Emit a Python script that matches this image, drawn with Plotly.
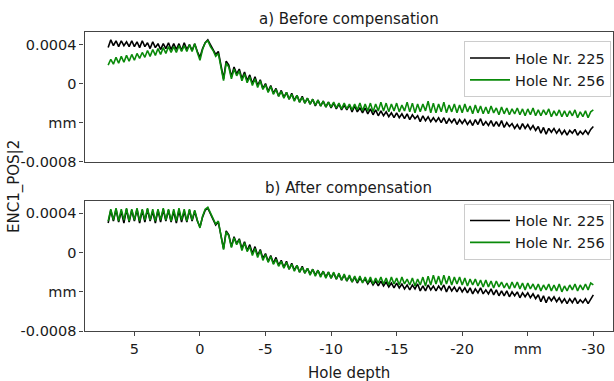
import numpy as np
import plotly.graph_objects as go

# Hole depth sampling grid (mm), 7 down to -30 in 0.2 mm steps
depth = np.round(np.linspace(7.0, -30.0, 186), 2)

# Values in units of 1e-4 mm
before_225 = [
    3.7, 4.5, 3.9, 4.4, 3.8,  4.4, 3.9, 4.3, 3.8, 4.4,  3.8, 4.3, 3.7, 4.4, 3.8,
    4.2, 3.6, 4.3, 3.7, 4.1,  3.5, 4.1, 3.6, 4.2, 3.5,  4.1, 3.5, 4.1, 3.4, 4.2,
    3.5, 4.0, 3.4, 4.1, 3.3,  2.7, 3.6, 4.2, 4.5, 4.0,  3.6, 3.0, 3.3, 1.8, 0.5,
    2.3, 1.9, 0.7, 1.7, 1.0,  1.5, 0.5, 1.2, 0.3, 0.9,  0.0, 0.7, -0.2, 0.4, -0.5,
    0.0, -0.8, -0.2, -1.0, -0.5,  -1.3, -0.7, -1.4, -0.9, -1.6,  -1.0, -1.7, -1.2, -1.9, -1.3,
    -2.0, -1.5, -2.1, -1.6, -2.3,  -1.7, -2.3, -1.8, -2.4, -1.9,  -2.5, -2.0, -2.6, -2.1, -2.7,
    -2.2, -2.7, -2.2, -2.9, -2.3,  -2.9, -2.5, -3.0, -2.5, -3.1,  -2.6, -3.2, -2.7, -3.3, -2.8,
    -3.3, -2.9, -3.4, -3.0, -3.5,  -3.0, -3.5, -3.1, -3.6, -3.1,  -3.7, -3.2, -3.6, -3.3, -3.9,
    -3.3, -3.8, -3.4, -3.9, -3.5,  -3.9, -3.5, -4.0, -3.5, -4.1,  -3.6, -4.0, -3.6, -4.2, -3.7,
    -4.1, -3.7, -4.2, -3.8, -4.3,  -3.7, -4.2, -3.6, -4.3, -3.9,  -4.3, -3.8, -4.4, -3.9, -4.4,
    -3.8, -4.5, -4.0, -4.4, -4.1,  -4.6, -4.2, -4.7, -4.1, -4.6,  -4.2, -4.7, -4.3, -4.8, -4.4,
    -5.1, -4.5, -5.2, -4.6, -5.0,  -4.6, -5.1, -4.7, -5.2, -4.8,  -5.3, -4.8, -5.1, -4.7, -5.3,
    -4.9, -5.2, -4.8, -5.2, -4.7,  -4.4,
]
before_256 = [
    1.9, 2.5, 2.0, 2.7, 2.1,  2.8, 2.2, 2.9, 2.3, 3.0,  2.4, 3.1, 2.6, 3.2, 2.7,
    3.4, 2.8, 3.5, 2.9, 3.6,  3.0, 3.7, 3.1, 3.8, 3.2,  3.8, 3.2, 3.9, 3.3, 3.9,
    3.3, 4.0, 3.3, 4.1, 3.2,  2.4, 3.5, 4.2, 4.4, 3.8,  3.4, 2.8, 3.1, 1.5, 0.3,
    2.1, 1.7, 0.5, 1.5, 0.8,  1.3, 0.3, 1.0, 0.1, 0.7,  -0.2, 0.5, -0.4, 0.3, -0.6,
    -0.1, -0.9, -0.3, -1.1, -0.6,  -1.3, -0.8, -1.5, -0.9, -1.6,  -1.1, -1.8, -1.2, -1.9, -1.4,
    -2.0, -1.5, -2.1, -1.6, -2.2,  -1.7, -2.3, -1.8, -2.4, -1.9,  -2.4, -1.9, -2.5, -2.0, -2.6,
    -2.0, -2.6, -2.1, -2.7, -2.1,  -2.7, -2.0, -2.8, -2.1, -2.8,  -2.0, -2.9, -2.1, -2.8, -1.9,
    -2.8, -2.0, -2.9, -2.1, -2.8,  -2.0, -2.9, -2.2, -2.8, -1.9,  -2.9, -2.0, -3.0, -2.1, -2.9,
    -2.1, -2.8, -1.8, -3.0, -2.0,  -3.0, -2.1, -2.9, -1.9, -3.0,  -2.2, -2.9, -2.1, -3.0, -2.2,
    -3.0, -2.1, -2.9, -2.3, -3.1,  -2.2, -3.0, -2.3, -3.1, -2.4,  -3.1, -2.3, -3.0, -2.5, -3.2,
    -2.4, -3.1, -2.5, -3.2, -2.6,  -3.1, -2.5, -3.2, -2.6, -3.3,  -2.6, -3.2, -2.5, -3.3, -2.7,
    -3.3, -2.7, -3.2, -2.6, -3.4,  -2.8, -3.3, -2.7, -3.4, -2.8,  -3.4, -2.8, -3.3, -2.7, -3.5,
    -2.9, -3.4, -2.8, -3.5, -2.9,  -2.7,
]
after_225 = [
    3.0, 4.3, 3.2, 4.4, 3.1,  4.2, 3.0, 4.4, 3.1, 4.3,  3.2, 4.4, 3.0, 4.3, 3.1,
    4.4, 3.2, 4.2, 3.0, 4.3,  3.1, 4.4, 3.2, 4.3, 3.1,  4.2, 3.0, 4.3, 3.1, 4.2,
    3.1, 4.3, 3.2, 4.2, 3.2,  2.6, 3.6, 4.3, 4.5, 3.9,  3.4, 2.8, 3.1, 1.6, 0.4,
    2.2, 1.8, 0.6, 1.6, 0.9,  1.4, 0.4, 1.1, 0.2, 0.8,  -0.1, 0.6, -0.3, 0.3, -0.6,
    -0.1, -0.9, -0.3, -1.1, -0.5,  -1.3, -0.8, -1.5, -0.9, -1.7,  -1.1, -1.8, -1.3, -2.0, -1.4,
    -2.1, -1.6, -2.2, -1.7, -2.3,  -1.8, -2.4, -1.9, -2.5, -2.0,  -2.6, -2.1, -2.7, -2.2, -2.8,
    -2.3, -2.9, -2.4, -3.0, -2.5,  -3.1, -2.6, -3.0, -2.7, -3.2,  -2.8, -3.3, -2.9, -3.4, -2.9,
    -3.4, -3.0, -3.5, -3.1, -3.6,  -3.1, -3.6, -3.2, -3.7, -3.3,  -3.8, -3.3, -3.7, -3.2, -3.9,
    -3.4, -3.9, -3.3, -3.8, -3.4,  -3.9, -3.4, -3.8, -3.3, -4.0,  -3.4, -3.9, -3.5, -4.0, -3.5,
    -4.0, -3.6, -4.1, -3.6, -4.2,  -3.7, -4.1, -3.6, -4.2, -3.8,  -4.2, -3.7, -4.3, -3.8, -4.4,
    -3.9, -4.4, -3.9, -4.5, -4.0,  -4.4, -4.0, -4.6, -4.1, -4.5,  -4.1, -4.6, -4.2, -4.7, -4.3,
    -5.0, -4.4, -5.1, -4.5, -4.9,  -4.5, -5.0, -4.6, -5.1, -4.7,  -5.2, -4.7, -5.1, -4.6, -5.2,
    -4.8, -5.1, -4.7, -5.2, -4.7,  -4.3,
]
after_256 = [
    3.2, 4.4, 3.3, 4.5, 3.2,  4.4, 3.3, 4.5, 3.2, 4.4,  3.3, 4.5, 3.2, 4.4, 3.3,
    4.5, 3.3, 4.4, 3.2, 4.4,  3.3, 4.5, 3.3, 4.4, 3.2,  4.4, 3.2, 4.5, 3.3, 4.4,
    3.2, 4.4, 3.3, 4.3, 3.3,  2.5, 3.7, 4.4, 4.6, 4.0,  3.5, 2.9, 3.2, 1.7, 0.3,
    2.1, 1.7, 0.5, 1.5, 0.8,  1.3, 0.2, 1.0, 0.1, 0.6,  -0.3, 0.4, -0.5, 0.2, -0.8,
    -0.2, -1.0, -0.4, -1.2, -0.7,  -1.4, -0.9, -1.6, -1.0, -1.7,  -1.2, -1.9, -1.3, -2.0, -1.5,
    -2.1, -1.6, -2.3, -1.7, -2.4,  -1.8, -2.5, -1.9, -2.6, -2.0,  -2.6, -2.0, -2.7, -2.1, -2.8,
    -2.2, -2.9, -2.3, -3.0, -2.4,  -3.0, -2.4, -3.1, -2.5, -3.1,  -2.5, -3.2, -2.6, -3.1, -2.5,
    -3.2, -2.6, -3.3, -2.5, -3.2,  -2.6, -3.3, -2.5, -3.2, -2.7,  -3.3, -2.6, -3.4, -2.7, -3.3,
    -2.5, -3.4, -2.4, -3.3, -2.3,  -3.2, -2.4, -3.3, -2.3, -3.2,  -2.4, -3.3, -2.5, -3.2, -2.5,
    -3.3, -2.6, -3.4, -2.7, -3.3,  -2.7, -3.4, -2.8, -3.5, -2.8,  -3.5, -2.9, -3.6, -2.9, -3.5,
    -3.0, -3.6, -3.1, -3.7, -3.0,  -3.6, -3.0, -3.7, -3.1, -3.8,  -3.1, -3.7, -3.2, -3.8, -3.2,
    -3.9, -3.3, -3.8, -3.2, -3.9,  -3.3, -3.9, -3.2, -4.0, -3.4,  -3.9, -3.3, -3.8, -3.2, -3.9,
    -3.3, -3.8, -3.2, -3.8, -3.1,  -3.3,
]

series_names = ["Hole Nr. 225", "Hole Nr. 256"]
panel_titles = ["a) Before compensation", "b) After compensation"]
y_tickvals = [4, 0, -4, -8]
y_ticktext = ["0.0004", "0", "mm", "-0.0008"]
x_tickvals = [5, 0, -5, -10, -15, -20, -25, -30]
x_ticktext = ["5", "0", "-5", "-10", "-15", "-20", "mm", "-30"]

W, H = 614, 381
FONT = "DejaVu Sans"
TXT = "#1a1a1a"
SPINE = "#444444"
BLACK = "#000000"
GREEN = "#0a8a0a"

def px_x(p):
    return p / W

def px_y(p):
    return (H - p) / H

fig = go.Figure()
fig.add_trace(go.Scatter(x=depth, y=before_225, mode="lines", name=series_names[0],
                         line=dict(color=BLACK, width=1.6), xaxis="x", yaxis="y", legend="legend"))
fig.add_trace(go.Scatter(x=depth, y=before_256, mode="lines", name=series_names[1],
                         line=dict(color=GREEN, width=1.6), xaxis="x", yaxis="y", legend="legend"))
fig.add_trace(go.Scatter(x=depth, y=after_225, mode="lines", name=series_names[0],
                         line=dict(color=BLACK, width=1.6), xaxis="x2", yaxis="y2", legend="legend2"))
fig.add_trace(go.Scatter(x=depth, y=after_256, mode="lines", name=series_names[1],
                         line=dict(color=GREEN, width=1.6), xaxis="x2", yaxis="y2", legend="legend2"))

xdom = [px_x(84.7), 1.0]
xr = [8.8, -31.5]
yr = [-8.0, 5.27]
common_axis = dict(showline=True, mirror=True, linecolor=SPINE, linewidth=1.2,
                   showgrid=False, zeroline=False,
                   tickfont=dict(family=FONT, size=14.5, color=TXT))

legend_style = dict(xanchor="right", yanchor="top", bgcolor="white",
                    bordercolor="#cccccc", borderwidth=1, itemwidth=40,
                    title=dict(text=""), tracegroupgap=0,
                    font=dict(family=FONT, size=14.5, color=TXT))

fig.update_layout(
    width=W, height=H,
    margin=dict(l=0, r=0, t=0, b=0),
    paper_bgcolor="white", plot_bgcolor="white",
    font=dict(family=FONT, size=14, color=TXT),
    xaxis=dict(domain=xdom, range=xr, anchor="y", showticklabels=False, ticks="",
               tickvals=x_tickvals, **common_axis),
    yaxis=dict(domain=[px_y(165), px_y(33)], range=yr, anchor="x",
               tickvals=y_tickvals, ticktext=y_ticktext, ticks="outside", ticklen=4,
               tickcolor=SPINE, **common_axis),
    xaxis2=dict(domain=xdom, range=xr, anchor="y2", tickvals=x_tickvals, ticktext=x_ticktext,
                ticks="outside", ticklen=4, tickcolor=SPINE, **common_axis),
    yaxis2=dict(domain=[px_y(338.3), px_y(205)], range=yr, anchor="x2",
                tickvals=y_tickvals, ticktext=y_ticktext, ticks="outside", ticklen=4,
                tickcolor=SPINE, **common_axis),
    legend=dict(x=px_x(612), y=px_y(42), **legend_style),
    legend2=dict(x=px_x(612), y=px_y(208), **legend_style),
    showlegend=True,
)

cx = (xdom[0] + xdom[1]) / 2
def label(text, x, y, angle=0):
    fig.add_annotation(text=text, x=x, y=y, xref="paper", yref="paper",
                       xanchor="center", yanchor="middle", showarrow=False,
                       textangle=angle, font=dict(family=FONT, size=15, color=TXT))

label(panel_titles[0], cx, px_y(19))
label(panel_titles[1], cx, px_y(192))
label("ENC1_POS|2", px_x(14), px_y(190), -90)
label("Hole depth", cx, px_y(381))

fig.write_html("out.html")
